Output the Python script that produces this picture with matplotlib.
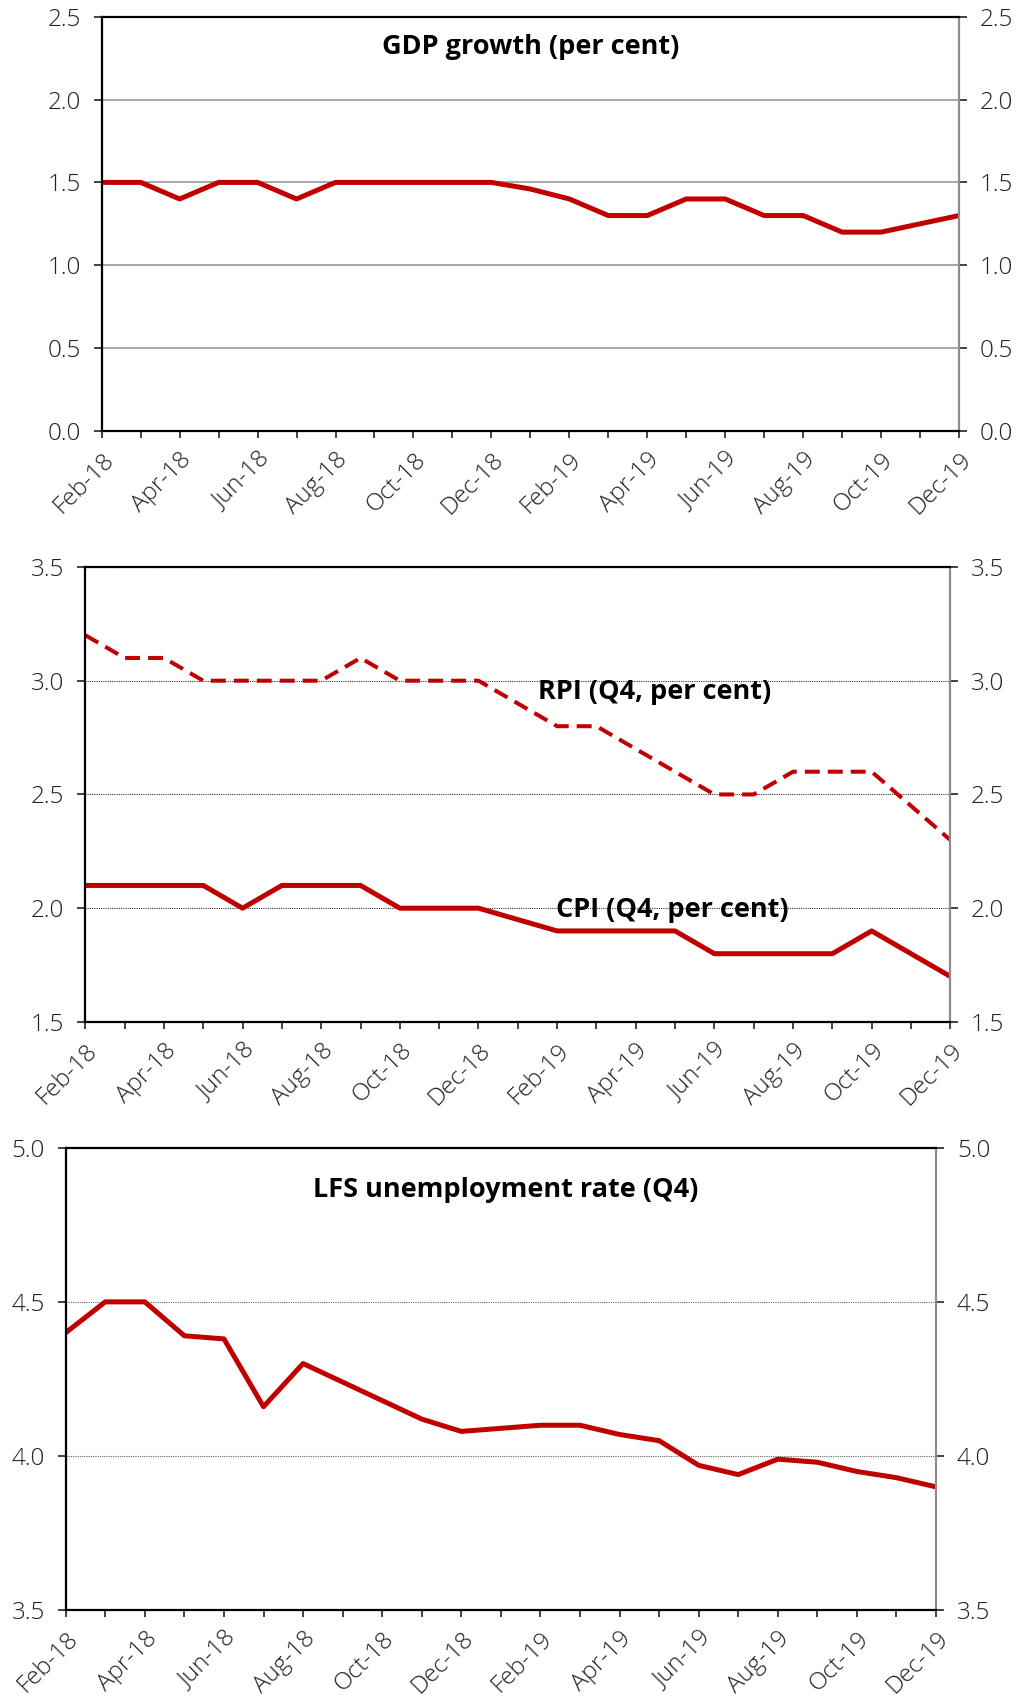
import matplotlib
matplotlib.use("Agg")
import matplotlib.pyplot as plt

plt.rcParams["font.family"] = ["Open Sans", "DejaVu Sans"]

months = ["Feb-18", "Mar-18", "Apr-18", "May-18", "Jun-18", "Jul-18", "Aug-18",
          "Sep-18", "Oct-18", "Nov-18", "Dec-18", "Jan-19", "Feb-19", "Mar-19",
          "Apr-19", "May-19", "Jun-19", "Jul-19", "Aug-19", "Sep-19", "Oct-19",
          "Nov-19", "Dec-19"]

gdp = [1.5, 1.5, 1.4, 1.5, 1.5, 1.4, 1.5, 1.5, 1.5, 1.5, 1.5, 1.46,
       1.4, 1.3, 1.3, 1.4, 1.4, 1.3, 1.3, 1.2, 1.2, 1.25, 1.3]

rpi = [3.2, 3.1, 3.1, 3.0, 3.0, 3.0, 3.0, 3.1, 3.0, 3.0, 3.0, 2.9,
       2.8, 2.8, 2.7, 2.6, 2.5, 2.5, 2.6, 2.6, 2.6, 2.45, 2.3]

cpi = [2.1, 2.1, 2.1, 2.1, 2.0, 2.1, 2.1, 2.1, 2.0, 2.0, 2.0, 1.95,
       1.9, 1.9, 1.9, 1.9, 1.8, 1.8, 1.8, 1.8, 1.9, 1.8, 1.7]

lfs = [4.40, 4.50, 4.50, 4.39, 4.38, 4.16, 4.30, 4.24, 4.18, 4.12, 4.08, 4.09,
       4.10, 4.10, 4.07, 4.05, 3.97, 3.94, 3.99, 3.98, 3.95, 3.93, 3.90]

gdp_ticks = [0.0, 0.5, 1.0, 1.5, 2.0, 2.5]
inf_ticks = [1.5, 2.0, 2.5, 3.0, 3.5]
lfs_ticks = [3.5, 4.0, 4.5, 5.0]

RED = "#C00000"
x = list(range(len(months)))

fig = plt.figure(figsize=(10.17, 16.97), dpi=100)


def style_axes(ax, ticks, grid_style):
    ax.set_xlim(0, len(months) - 1)
    ax.set_ylim(ticks[0], ticks[-1])
    ax.set_yticks(ticks)
    ax.set_yticklabels([f"{t:.1f}" for t in ticks], fontweight="light")
    ax.set_xticks(x)
    ax.set_xticklabels([m if i % 2 == 0 else "" for i, m in enumerate(months)],
                       rotation=45, ha="right", va="top", rotation_mode="anchor",
                       fontweight="light")
    for s in ["left", "bottom", "top"]:
        ax.spines[s].set_color("black")
        ax.spines[s].set_linewidth(1.6)
    ax.spines["right"].set_color("#8c8c8c")
    ax.spines["right"].set_linewidth(1.6)
    ax.tick_params(axis="y", which="major", left=True, right=True,
                   labelleft=True, labelright=True, length=6, width=1.2,
                   labelsize=17.5, pad=9, colors="#222222")
    ax.tick_params(axis="x", which="major", length=5, width=1.2,
                   labelsize=17.5, pad=7, colors="#222222")
    for t in ax.yaxis.get_major_ticks():
        t.tick1line.set_color("black")
        t.tick2line.set_color("#8c8c8c")
    for t in ax.xaxis.get_major_ticks():
        t.tick1line.set_color("black")
    ax.grid(axis="y", **grid_style)
    ax.set_axisbelow(True)


# GDP growth
ax1 = fig.add_axes([0.100, 0.746, 0.843, 0.2442])
ax1.plot(x, gdp, color=RED, linewidth=3.6)
style_axes(ax1, gdp_ticks, dict(color="#a0a0a0", linewidth=1.3, linestyle="-"))
ax1.text(0.5, 0.927, "GDP growth (per cent)", transform=ax1.transAxes,
         ha="center", va="center", fontsize=19.5, fontweight="bold")

# RPI and CPI
ax2 = fig.add_axes([0.0839, 0.3978, 0.8505, 0.2681])
ax2.plot(x, rpi, color=RED, linewidth=2.9, dashes=(3.7, 2.0))
ax2.plot(x, cpi, color=RED, linewidth=3.6)
style_axes(ax2, inf_ticks, dict(color="#333333", linewidth=0.8, linestyle=(0, (1, 1))))
ax2.text(14.47, 2.95, "RPI (Q4, per cent)", ha="center", va="center",
         fontsize=19.5, fontweight="bold")
ax2.text(14.94, 1.99, "CPI (Q4, per cent)", ha="center", va="center",
         fontsize=19.5, fontweight="bold")

# LFS unemployment
ax3 = fig.add_axes([0.0646, 0.0511, 0.8558, 0.2726])
ax3.plot(x, lfs, color=RED, linewidth=3.6)
style_axes(ax3, lfs_ticks, dict(color="#666666", linewidth=0.8, linestyle=(0, (1, 1))))
ax3.text(0.505, 0.909, "LFS unemployment rate (Q4)", transform=ax3.transAxes,
         ha="center", va="center", fontsize=19.5, fontweight="bold")

fig.savefig("out.png", dpi=100)
